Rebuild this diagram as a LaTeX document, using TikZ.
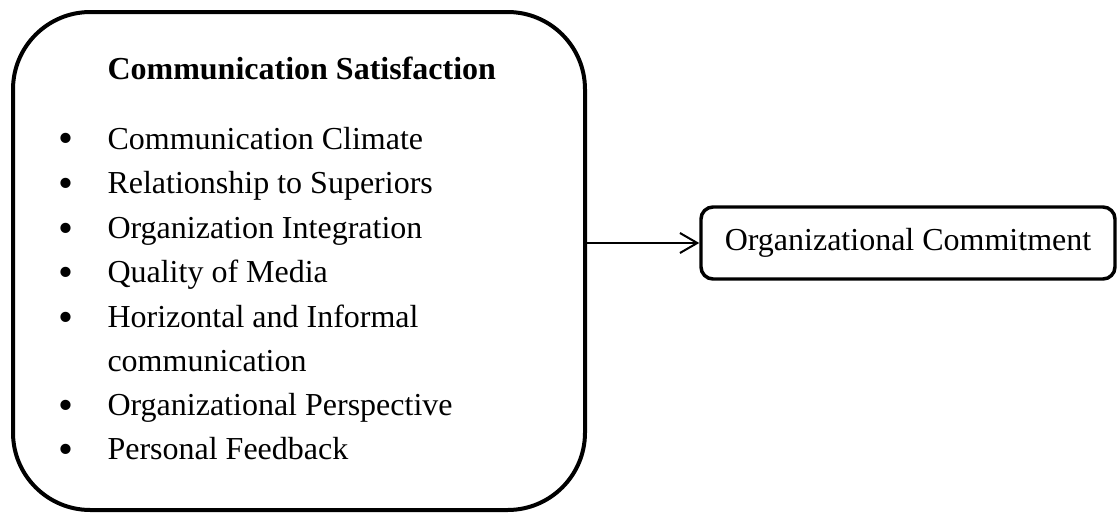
\documentclass[tikz,border=0pt]{standalone}
\usepackage{fontspec}
\setmainfont{Liberation Serif}
\usetikzlibrary{arrows.meta}
\begin{document}
\begin{tikzpicture}[x=0.375pt,y=-0.375pt,
  bigbox/.style={draw, line width=1.5pt, rounded corners=29pt, minimum width=214.5pt, minimum height=186.75pt, inner sep=0pt},
  smallbox/.style={draw, line width=1.3pt, rounded corners=4.5pt, minimum width=155.25pt, minimum height=27pt, inner sep=0pt, font=\fontsize{12pt}{14pt}\selectfont},
  item/.style={anchor=base west, inner sep=0pt, font=\fontsize{12pt}{14pt}\selectfont},
  bul/.style={anchor=base, inner sep=0pt, text height=7pt, text depth=0pt, font=\fontsize{16pt}{18pt}\selectfont},
  title/.style={anchor=base west, inner sep=0pt, font=\fontsize{12pt}{14pt}\selectfont\bfseries},
  link/.style={line width=0.75pt, -{Straight Barb[length=6.5pt,width=7.5pt,line width=0.75pt]}}]
\useasboundingbox (0,0) rectangle (1119,514);
\node[bigbox] (cs) at (299,261) {};
\node[smallbox] (oc) at (908,243) {Organizational Commitment};
\node[title] (t) at (107,79) {Communication Satisfaction};
\node[bul] (b1) at (66,153) {•};
\node[item] (i1) at (107,149) {Communication Climate};
\node[bul] (b2) at (66,197) {•};
\node[item] (i2) at (107,193) {Relationship to Superiors};
\node[bul] (b3) at (66,242) {•};
\node[item] (i3) at (107,238) {Organization Integration};
\node[bul] (b4) at (66,286) {•};
\node[item] (i4) at (107,282) {Quality of Media};
\node[bul] (b5) at (66,331) {•};
\node[item] (i5) at (107,327) {Horizontal and Informal};
\node[item] (i5b) at (107,371) {communication};
\node[bul] (b6) at (66,419) {•};
\node[item] (i6) at (107,415) {Organizational Perspective};
\node[bul] (b7) at (66,463) {•};
\node[item] (i7) at (107,459) {Personal Feedback};
\draw[link] (cs.east |- oc.west) -- (oc.west);
\end{tikzpicture}
\end{document}
